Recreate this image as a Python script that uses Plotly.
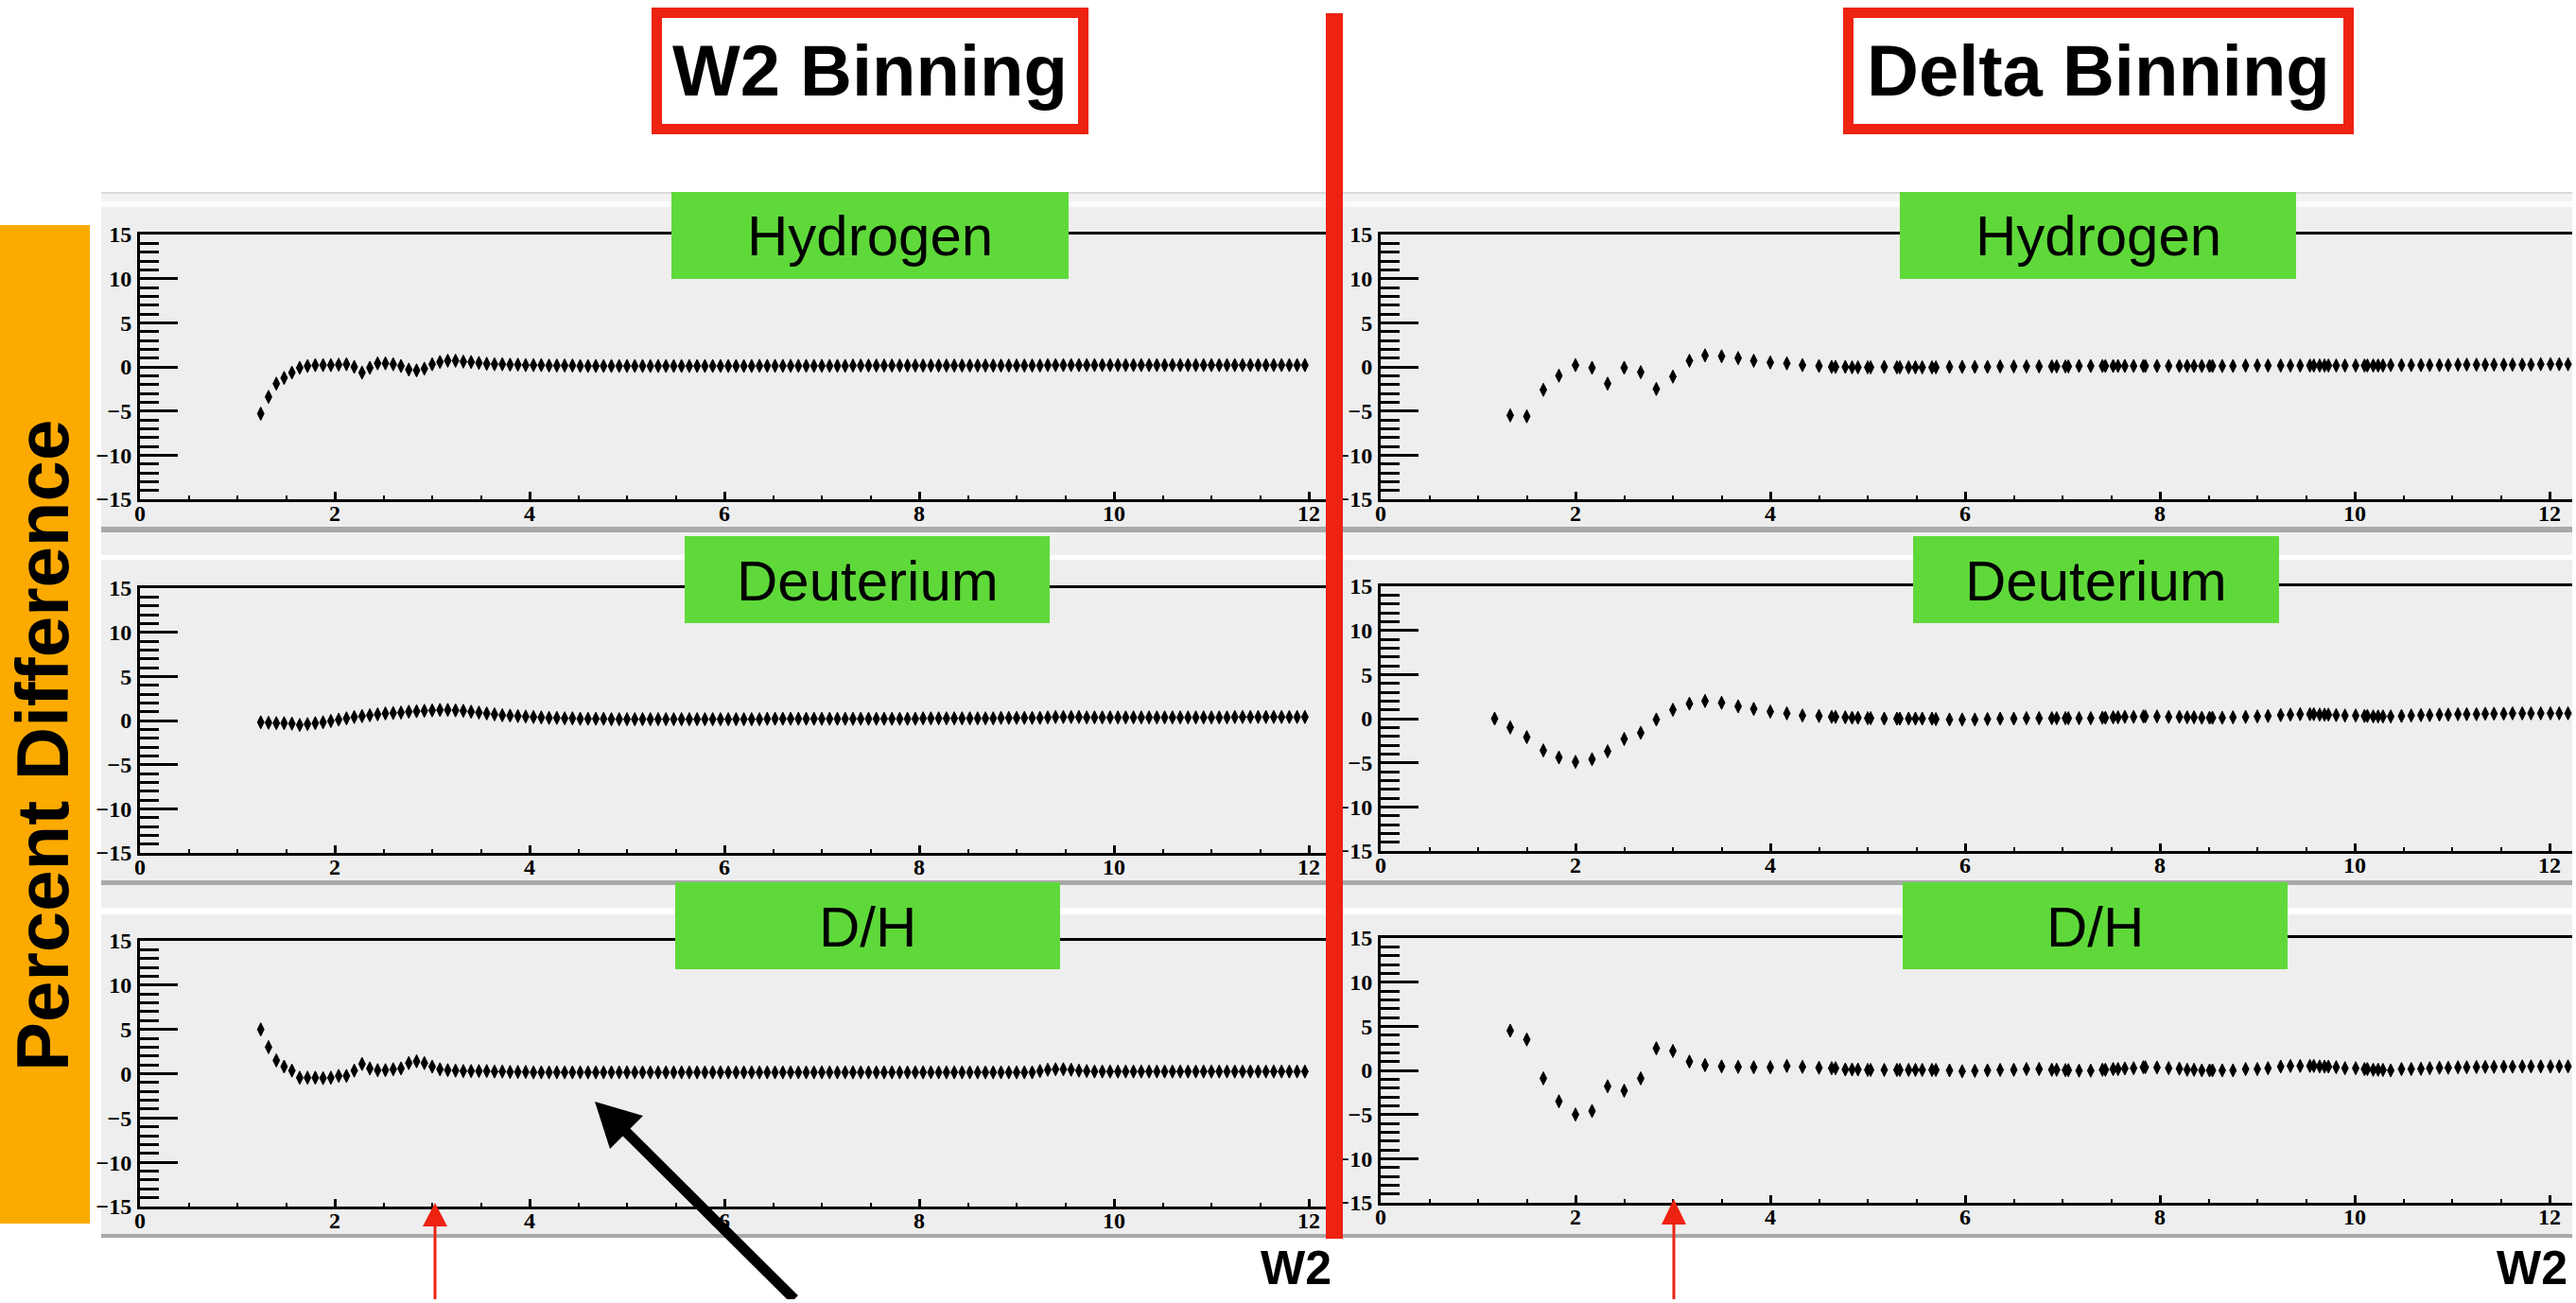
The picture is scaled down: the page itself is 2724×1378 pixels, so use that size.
import plotly.graph_objects as go

# the figure is kept a few pixels inside the window so the page never scrolls
PAGE_W, PAGE_H = 2724, 1378
FIG_W, FIG_H = 2720, 1374

# ---------------------------------------------------------------- data
# W2 binning: bin centres (GeV^2)
X_W2 = [
    1.24, 1.32, 1.40, 1.48, 1.56, 1.64, 1.72, 1.80, 1.88, 1.96,
    2.04, 2.12, 2.20, 2.28, 2.36, 2.44, 2.52, 2.60, 2.68, 2.76,
    2.84, 2.92, 3.00, 3.08, 3.16, 3.24, 3.32, 3.40, 3.48, 3.56,
    3.64, 3.72, 3.80, 3.88, 3.96, 4.04, 4.12, 4.20, 4.28, 4.36,
    4.44, 4.52, 4.60, 4.68, 4.76, 4.84, 4.92, 5.00, 5.08, 5.16,
    5.24, 5.32, 5.40, 5.48, 5.56, 5.64, 5.72, 5.80, 5.88, 5.96,
    6.04, 6.12, 6.20, 6.28, 6.36, 6.44, 6.52, 6.60, 6.68, 6.76,
    6.84, 6.92, 7.00, 7.08, 7.16, 7.24, 7.32, 7.40, 7.48, 7.56,
    7.64, 7.72, 7.80, 7.88, 7.96, 8.04, 8.12, 8.20, 8.28, 8.36,
    8.44, 8.52, 8.60, 8.68, 8.76, 8.84, 8.92, 9.00, 9.08, 9.16,
    9.24, 9.32, 9.40, 9.48, 9.56, 9.64, 9.72, 9.80, 9.88, 9.96,
    10.04, 10.12, 10.20, 10.28, 10.36, 10.44, 10.52, 10.60, 10.68, 10.76,
    10.84, 10.92, 11.00, 11.08, 11.16, 11.24, 11.32, 11.40, 11.48, 11.56,
    11.64, 11.72, 11.80, 11.88, 11.96,
]

W2_HYDROGEN = [
    -5.3, -3.4, -1.9, -1.25, -0.65, -0.1, 0.1, 0.2, 0.2, 0.2,
    0.25, 0.3, 0.0, -0.65, -0.1, 0.4, 0.4, 0.3, 0.1, -0.3,
    -0.4, -0.2, 0.3, 0.55, 0.7, 0.7, 0.6, 0.55, 0.45, 0.35,
    0.3, 0.3, 0.25, 0.25, 0.2, 0.2, 0.2, 0.15, 0.15, 0.15,
    0.15, 0.1, 0.1, 0.1, 0.1, 0.1, 0.1, 0.1, 0.1, 0.1,
    0.1, 0.1, 0.1, 0.1, 0.1, 0.1, 0.1, 0.1, 0.1, 0.1,
    0.1, 0.1, 0.1, 0.1, 0.12, 0.12, 0.12, 0.12, 0.12, 0.12,
    0.12, 0.12, 0.12, 0.12, 0.12, 0.12, 0.15, 0.15, 0.15, 0.15,
    0.15, 0.15, 0.15, 0.15, 0.15, 0.15, 0.15, 0.15, 0.15, 0.15,
    0.15, 0.15, 0.15, 0.15, 0.15, 0.15, 0.15, 0.15, 0.15, 0.15,
    0.15, 0.2, 0.2, 0.2, 0.2, 0.2, 0.2, 0.2, 0.2, 0.2,
    0.2, 0.2, 0.2, 0.2, 0.2, 0.2, 0.2, 0.2, 0.2, 0.2,
    0.2, 0.2, 0.2, 0.2, 0.2, 0.2, 0.2, 0.2, 0.2, 0.2,
    0.2, 0.2, 0.2, 0.2, 0.2,
]

W2_DEUTERIUM = [
    -0.2, -0.25, -0.3, -0.3, -0.35, -0.5, -0.4, -0.3, -0.2, -0.05,
    0.1, 0.25, 0.4, 0.5, 0.6, 0.7, 0.8, 0.85, 0.9, 1.0,
    1.05, 1.1, 1.15, 1.2, 1.2, 1.15, 1.1, 1.0, 0.9, 0.8,
    0.7, 0.6, 0.55, 0.5, 0.45, 0.4, 0.35, 0.3, 0.3, 0.25,
    0.25, 0.2, 0.2, 0.2, 0.2, 0.15, 0.15, 0.15, 0.15, 0.15,
    0.15, 0.15, 0.15, 0.15, 0.15, 0.15, 0.15, 0.15, 0.15, 0.15,
    0.15, 0.15, 0.15, 0.15, 0.15, 0.2, 0.2, 0.2, 0.2, 0.2,
    0.2, 0.2, 0.2, 0.2, 0.2, 0.2, 0.2, 0.2, 0.2, 0.2,
    0.2, 0.2, 0.2, 0.2, 0.2, 0.25, 0.25, 0.25, 0.25, 0.25,
    0.25, 0.25, 0.25, 0.25, 0.25, 0.3, 0.3, 0.3, 0.3, 0.3,
    0.3, 0.35, 0.4, 0.4, 0.4, 0.4, 0.35, 0.35, 0.35, 0.35,
    0.35, 0.35, 0.35, 0.35, 0.35, 0.35, 0.35, 0.35, 0.35, 0.35,
    0.35, 0.35, 0.35, 0.35, 0.35, 0.4, 0.4, 0.4, 0.4, 0.4,
    0.4, 0.4, 0.4, 0.4, 0.4,
]

W2_RATIO = [
    5.0, 3.0, 1.5, 0.8, 0.35, -0.45, -0.45, -0.45, -0.5, -0.45,
    -0.25, -0.25, 0.35, 1.1, 0.6, 0.4, 0.4, 0.5, 0.6, 1.2,
    1.4, 1.2, 0.8, 0.5, 0.4, 0.35, 0.3, 0.3, 0.3, 0.3,
    0.25, 0.25, 0.2, 0.2, 0.2, 0.15, 0.15, 0.15, 0.15, 0.15,
    0.15, 0.15, 0.15, 0.15, 0.15, 0.15, 0.15, 0.15, 0.15, 0.15,
    0.15, 0.15, 0.15, 0.15, 0.15, 0.15, 0.15, 0.15, 0.15, 0.15,
    0.15, 0.15, 0.15, 0.15, 0.15, 0.15, 0.15, 0.15, 0.15, 0.15,
    0.15, 0.15, 0.15, 0.15, 0.15, 0.15, 0.15, 0.15, 0.15, 0.15,
    0.15, 0.15, 0.15, 0.15, 0.15, 0.15, 0.15, 0.15, 0.15, 0.15,
    0.15, 0.15, 0.15, 0.15, 0.15, 0.15, 0.15, 0.15, 0.15, 0.15,
    0.3, 0.45, 0.5, 0.5, 0.45, 0.35, 0.3, 0.25, 0.25, 0.25,
    0.25, 0.25, 0.25, 0.25, 0.25, 0.25, 0.25, 0.25, 0.25, 0.25,
    0.25, 0.25, 0.25, 0.25, 0.25, 0.25, 0.25, 0.25, 0.25, 0.25,
    0.25, 0.25, 0.25, 0.25, 0.25,
]

# Delta binning: bin centres mapped to W2 (GeV^2)
X_DELTA = [
    1.33, 1.50, 1.67, 1.83, 2.00, 2.17, 2.33, 2.50, 2.67, 2.83,
    3.00, 3.17, 3.33, 3.50, 3.67, 3.83, 4.00, 4.17, 4.33, 4.50,
    4.63, 4.67, 4.77, 4.84, 4.90, 5.00, 5.03, 5.17, 5.30, 5.33,
    5.42, 5.49, 5.56, 5.66, 5.70, 5.84, 5.97, 6.10, 6.23, 6.36,
    6.50, 6.63, 6.76, 6.89, 6.94, 7.03, 7.06, 7.17, 7.29, 7.41,
    7.44, 7.52, 7.57, 7.64, 7.73, 7.83, 7.85, 7.97, 8.09, 8.20,
    8.28, 8.35, 8.43, 8.51, 8.54, 8.64, 8.75, 8.88, 9.00, 9.11,
    9.24, 9.34, 9.44, 9.54, 9.58, 9.64, 9.69, 9.73, 9.81, 9.90,
    10.01, 10.10, 10.13, 10.19, 10.24, 10.29, 10.37, 10.48, 10.58, 10.68,
    10.77, 10.87, 10.96, 11.06, 11.15, 11.25, 11.34, 11.43, 11.53, 11.62,
    11.72, 11.81, 11.91, 12.01, 12.10, 12.19,
]
# deuterium has one extra low bin
X_DELTA_D_LOW = [1.17]

DELTA_HYDROGEN = [
    -5.5, -5.6, -2.6, -1.0, 0.2, -0.1, -1.9, -0.1, -0.6, -2.5,
    -1.1, 0.7, 1.3, 1.2, 1.0, 0.7, 0.5, 0.4, 0.2, 0.1,
    0.0, 0.0, 0.0, -0.05, -0.05, -0.05, -0.05, 0.0, -0.05, -0.05,
    -0.05, -0.05, -0.05, -0.05, -0.05, 0.0, 0.0, 0.0, 0.0, 0.05,
    0.05, 0.05, 0.05, 0.05, 0.05, 0.05, 0.05, 0.1, 0.1, 0.1,
    0.1, 0.1, 0.1, 0.1, 0.1, 0.1, 0.1, 0.1, 0.1, 0.1,
    0.1, 0.1, 0.1, 0.1, 0.1, 0.1, 0.1, 0.15, 0.15, 0.15,
    0.15, 0.15, 0.15, 0.15, 0.15, 0.15, 0.15, 0.15, 0.15, 0.15,
    0.15, 0.15, 0.15, 0.15, 0.15, 0.15, 0.2, 0.2, 0.2, 0.2,
    0.2, 0.2, 0.2, 0.25, 0.25, 0.25, 0.25, 0.25, 0.25, 0.25,
    0.25, 0.25, 0.3, 0.3, 0.3, 0.3,
]

DELTA_DEUTERIUM = [
    0.0, -1.0, -2.1, -3.6, -4.4, -4.9, -4.6, -3.7, -2.3, -1.6,
    -0.1, 1.0, 1.7, 2.0, 1.8, 1.4, 1.1, 0.8, 0.6, 0.35,
    0.3,
    0.2, 0.2, 0.15, 0.1, 0.1, 0.05, 0.05, 0.0, 0.0, 0.0,
    0.0, 0.0, 0.0, 0.0, -0.05, -0.1, -0.1, -0.1, -0.05, 0.0,
    0.0, 0.05, 0.05, 0.05, 0.05, 0.05, 0.05, 0.05, 0.05, 0.1,
    0.1, 0.15, 0.15, 0.2, 0.2, 0.25, 0.25, 0.25, 0.2, 0.2,
    0.15, 0.15, 0.1, 0.1, 0.1, 0.1, 0.15, 0.2, 0.25, 0.3,
    0.4, 0.45, 0.5, 0.5, 0.5, 0.45, 0.45, 0.45, 0.4, 0.35,
    0.35, 0.3, 0.3, 0.25, 0.25, 0.25, 0.25, 0.3, 0.35, 0.4,
    0.4, 0.45, 0.45, 0.5, 0.5, 0.5, 0.55, 0.55, 0.55, 0.6,
    0.6, 0.6, 0.6, 0.6, 0.6, 0.6,
]

DELTA_RATIO = [
    4.5, 3.5, -0.9, -3.5, -5.0, -4.6, -1.8, -2.3, -0.9, 2.5,
    2.2, 1.0, 0.6, 0.45, 0.4, 0.35, 0.35, 0.5, 0.4, 0.3,
    0.25, 0.25, 0.1, 0.1, 0.1, 0.05, 0.05, 0.05, 0.05, 0.05,
    0.05, 0.05, 0.05, 0.05, 0.05, 0.0, -0.1, -0.05, 0.0, 0.05,
    0.07, 0.15, 0.15, 0.07, 0.07, 0.03, 0.03, -0.03, -0.03, 0.07,
    0.07, 0.15, 0.15, 0.22, 0.25, 0.36, 0.36, 0.33, 0.25, 0.2,
    0.07, 0.07, 0.0, 0.0, 0.0, 0.0, 0.0, 0.15, 0.15, 0.25,
    0.43, 0.5, 0.5, 0.5, 0.5, 0.45, 0.43, 0.43, 0.36, 0.25,
    0.25, 0.15, 0.15, 0.07, 0.07, 0.05, 0.0, 0.15, 0.15, 0.18,
    0.25, 0.3, 0.3, 0.35, 0.35, 0.38, 0.4, 0.4, 0.42, 0.42,
    0.45, 0.45, 0.45, 0.45, 0.45, 0.45,
]

PANEL_NAMES = ["Hydrogen", "Deuterium", "D/H"]
BINNING_TITLES = ["W2 Binning", "Delta Binning"]
Y_TITLE = "Percent Difference"
X_TITLE = "W2"

Y_RANGE = [-15, 15]

# ---------------------------------------------------------------- helpers
def px(x):
    return x / FIG_W


def py(y):
    return 1 - y / FIG_H


def rect(x0, y0, x1, y1, fill, layer="above", line_color=None, line_width=0):
    return dict(
        type="rect", xref="paper", yref="paper",
        x0=px(x0), x1=px(x1), y0=py(y1), y1=py(y0),
        fillcolor=fill, layer=layer,
        line=dict(color=line_color or fill, width=line_width),
    )


def poly(points, fill):
    d = "M " + " L ".join(f"{px(x)},{py(y)}" for x, y in points) + " Z"
    return dict(type="path", xref="paper", yref="paper", path=d,
                fillcolor=fill, line=dict(color=fill, width=0), layer="above")


def seg(x0, y0, x1, y1, color, width):
    return dict(type="line", xref="paper", yref="paper",
                x0=px(x0), y0=py(y0), x1=px(x1), y1=py(y1),
                line=dict(color=color, width=width), layer="above")


# ---------------------------------------------------------------- geometry
PX_PER_UNIT = 103.0
# per binning column: left/right pixel edge of the frame
COLS = [(148, 1402), (1460, FIG_W)]
# per binning column, per target row: top/bottom pixel of the frame
ROWS = [
    [(248, 528), (622, 902), (995, 1276)],
    [(248, 528), (620, 900), (992, 1272)],
]
PANEL_X = [(107, 1402), (1420, FIG_W)]
LABEL_BOXES = [
    [(710, 1130, 203, 295), (724, 1110, 567, 659), (714, 1121, 933, 1025)],
    [(2009, 2428, 203, 295), (2023, 2410, 567, 659), (2012, 2419, 933, 1025)],
]

SERIES = {
    (0, 0): (X_W2, W2_HYDROGEN),
    (0, 1): (X_W2, W2_DEUTERIUM),
    (0, 2): (X_W2, W2_RATIO),
    (1, 0): (X_DELTA, DELTA_HYDROGEN),
    (1, 1): (X_DELTA_D_LOW + X_DELTA, DELTA_DEUTERIUM),
    (1, 2): (X_DELTA, DELTA_RATIO),
}

TICK_FONT = dict(family="Liberation Serif", size=24, color="black", weight="bold")
GREEN = "#5fd93a"
RED = "#ee2211"
ORANGE = "#fdaa00"
PANEL_GRAY = "#eeeeee"
EDGE_GRAY = "#a9a9a9"

fig = go.Figure()
layout_axes = {}

for c in range(2):
    xl, xr = COLS[c]
    xmax = (xr - xl) / PX_PER_UNIT
    for r in range(3):
        n = r * 2 + c + 1
        suffix = "" if n == 1 else str(n)
        yt, yb = ROWS[c][r]
        xs, ys = SERIES[(c, r)]
        fig.add_trace(go.Scatter(
            x=xs, y=ys, xaxis="x" + suffix, yaxis="y" + suffix,
            mode="markers", showlegend=False, hoverinfo="skip",
            marker=dict(symbol="diamond-tall", size=10, color="black",
                        line=dict(width=1, color="black")),
        ))
        layout_axes["xaxis" + suffix] = dict(
            domain=[px(xl), min(1.0, px(xr))], range=[0, xmax],
            anchor="y" + suffix,
            tickmode="linear", tick0=0, dtick=2,
            ticks="inside", ticklen=8, tickwidth=2.5, tickcolor="black",
            minor=dict(ticks="inside", ticklen=4, tickwidth=2, dtick=0.5,
                       tickcolor="black", showgrid=False),
            showline=True, linecolor="black", linewidth=3, mirror=True,
            showgrid=False, zeroline=False, tickfont=TICK_FONT,
            ticklabelstandoff=-9, automargin=False, fixedrange=True,
        )
        layout_axes["yaxis" + suffix] = dict(
            domain=[py(yb), py(yt)], range=Y_RANGE, anchor="x" + suffix,
            tickmode="linear", tick0=0, dtick=5,
            ticks="inside", ticklen=40, tickwidth=3, tickcolor="black",
            minor=dict(ticks="inside", ticklen=20, tickwidth=2.5, dtick=1,
                       tickcolor="black", showgrid=False),
            showline=True, linecolor="black", linewidth=3, mirror=False,
            showgrid=False, zeroline=False, tickfont=TICK_FONT,
            ticklabelstandoff=1, automargin=False, fixedrange=True,
        )

shapes = []
annotations = []

# grey pad backgrounds of the six panels
for c in range(2):
    x0, x1 = PANEL_X[c]
    shapes += [
        rect(x0, 203, x1, 205, "#d9d9d9", "below"),
        rect(x0, 205, x1, 213, "#f3f3f3", "below"),
        rect(x0, 213, x1, 219, "#fbfbfb", "below"),
        rect(x0, 219, x1, 557, PANEL_GRAY, "below"),
        rect(x0, 557, x1, 563, EDGE_GRAY, "below"),
        rect(x0, 563, x1, 587, "#efefef", "below"),
        rect(x0, 587, x1, 592, "#ffffff", "below"),
        rect(x0, 592, x1, 931, PANEL_GRAY, "below"),
        rect(x0, 931, x1, 936, EDGE_GRAY, "below"),
        rect(x0, 936, x1, 960, "#efefef", "below"),
        rect(x0, 960, x1, 967, "#ffffff", "below"),
        rect(x0, 967, x1, 1305, PANEL_GRAY, "below"),
        rect(x0, 1305, x1, 1309, EDGE_GRAY, "below"),
    ]

# green target labels
for c in range(2):
    for r in range(3):
        bx0, bx1, by0, by1 = LABEL_BOXES[c][r]
        shapes.append(rect(bx0, by0, bx1, by1, GREEN))
        annotations.append(dict(
            text=PANEL_NAMES[r], xref="paper", yref="paper",
            x=px((bx0 + bx1) / 2), y=py((by0 + by1) / 2 + 1),
            xanchor="center", yanchor="middle", showarrow=False,
            font=dict(family="Liberation Sans", size=60, color="black"),
        ))

# binning title boxes
for (bx0, bx1), title in zip([(689, 1151), (1949, 2489)], BINNING_TITLES):
    shapes.append(rect(bx0 + 5.5, 13.5, bx1 - 5.5, 136.5, "white",
                       line_color=RED, line_width=11))
    annotations.append(dict(
        text=title, xref="paper", yref="paper",
        x=px((bx0 + bx1) / 2), y=py(75), xanchor="center", yanchor="middle",
        showarrow=False,
        font=dict(family="Liberation Sans", size=76, color="black", weight="bold"),
    ))

# divider between the two binnings
shapes.append(rect(1402, 14, 1420, 1310, RED))

# y-axis title bar
shapes.append(rect(0, 238, 95, 1294, ORANGE))
annotations.append(dict(
    text=Y_TITLE, xref="paper", yref="paper", x=px(45), y=py(789),
    xanchor="center", yanchor="middle", textangle=-90, showarrow=False,
    font=dict(family="Liberation Sans", size=78, color="black", weight="bold"),
))

# x-axis titles
for xc in (1370, 2677):
    annotations.append(dict(
        text=X_TITLE, xref="paper", yref="paper", x=px(xc), y=py(1341),
        xanchor="center", yanchor="middle", showarrow=False,
        font=dict(family="Liberation Sans", size=50, color="black", weight="bold"),
    ))

# red markers under the W2 = 3 region
for xa, tip, base in ((460, 1272, 1297), (1770, 1268, 1295)):
    shapes.append(seg(xa, base - 2, xa, FIG_H, RED, 3))
    shapes.append(poly([(xa - 13, base), (xa + 13, base), (xa, tip)], RED))

# black pointer arrow (shaft runs off the bottom edge)
shapes.append(seg(658, 1193, 840, 1374, "black", 11))
shapes.append(poly([(629, 1165), (680, 1180), (645, 1215)], "black"))

fig.update_layout(
    width=FIG_W, height=FIG_H,
    margin=dict(l=0, r=0, t=0, b=0),
    paper_bgcolor="white", plot_bgcolor="rgba(0,0,0,0)",
    shapes=shapes, annotations=annotations,
    showlegend=False,
    **layout_axes,
)

fig.write_html("out.html")
